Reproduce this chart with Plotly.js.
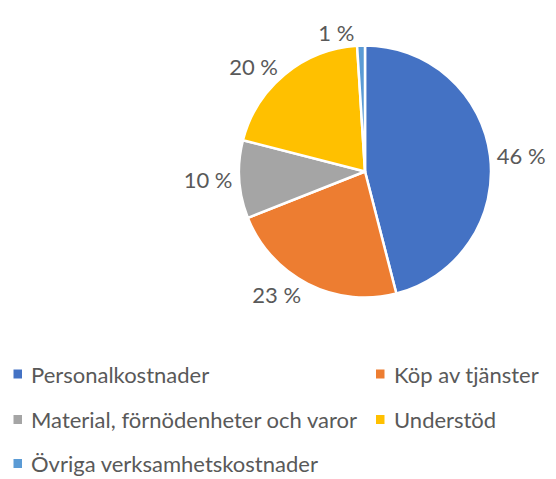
<!DOCTYPE html>
<html>
<head>
<meta charset="utf-8">
<script src="https://cdn.plot.ly/plotly-3.0.1.min.js"></script>
<style>html,body{margin:0;padding:0;background:#fff;}#chart{width:556px;height:479px;}</style>
</head>
<body>
<div id="chart"></div>
<script>
var categories = ["Personalkostnader", "Köp av tjänster", "Material, förnödenheter och varor", "Understöd", "Övriga verksamhetskostnader"];
var values = [46, 23, 10, 20, 1];
var colors = ["#4472C4", "#ED7D31", "#A5A5A5", "#FFC000", "#5B9BD5"];

var W = 556, H = 479;
var FONT = "Lato, 'Open Sans', sans-serif";
var TXT = "#595959";
var FS = 22;

var trace = {
  type: "pie",
  labels: categories,
  values: values,
  sort: false,
  direction: "clockwise",
  rotation: 0,
  marker: { colors: colors, line: { color: "#ffffff", width: 2.5 } },
  textposition: "outside",
  texttemplate: "%{value} %",
  textfont: { family: FONT, size: FS, color: TXT },
  hoverinfo: "label+percent",
  showlegend: false,
  domain: { x: [239 / W, 491 / W], y: [1 - 297.5 / H, 1 - 45.5 / H] }
};

// Legend built from the category list (two columns, like the original)
var legendPos = [
  { mx: 13.5, tx: 29, y: 374 },
  { mx: 376, tx: 391.5, y: 374 },
  { mx: 13.5, tx: 29, y: 419.5 },
  { mx: 376, tx: 391.5, y: 419.5 },
  { mx: 13.5, tx: 29, y: 463.5 }
];
var annotations = [], shapes = [];
categories.forEach(function (c, i) {
  var p = legendPos[i];
  annotations.push({
    xref: "paper", yref: "paper",
    x: p.tx / W, y: 1 - p.y / H,
    xanchor: "left", yanchor: "middle",
    text: c, showarrow: false,
    font: { family: FONT, size: FS, color: TXT }
  });
  shapes.push({
    type: "rect", xref: "paper", yref: "paper",
    x0: p.mx / W, x1: (p.mx + 8.5) / W,
    y0: 1 - (p.y - 4.5) / H, y1: 1 - (p.y + 4.5) / H,
    fillcolor: colors[i], line: { width: 0 }
  });
});

var layout = {
  width: W, height: H,
  margin: { l: 0, r: 0, t: 0, b: 0 },
  paper_bgcolor: "#ffffff",
  plot_bgcolor: "#ffffff",
  font: { family: FONT, color: TXT },
  showlegend: false,
  annotations: annotations,
  shapes: shapes
};

Plotly.newPlot("chart", [trace], layout, { displayModeBar: false, staticPlot: true });
</script>
</body>
</html>
